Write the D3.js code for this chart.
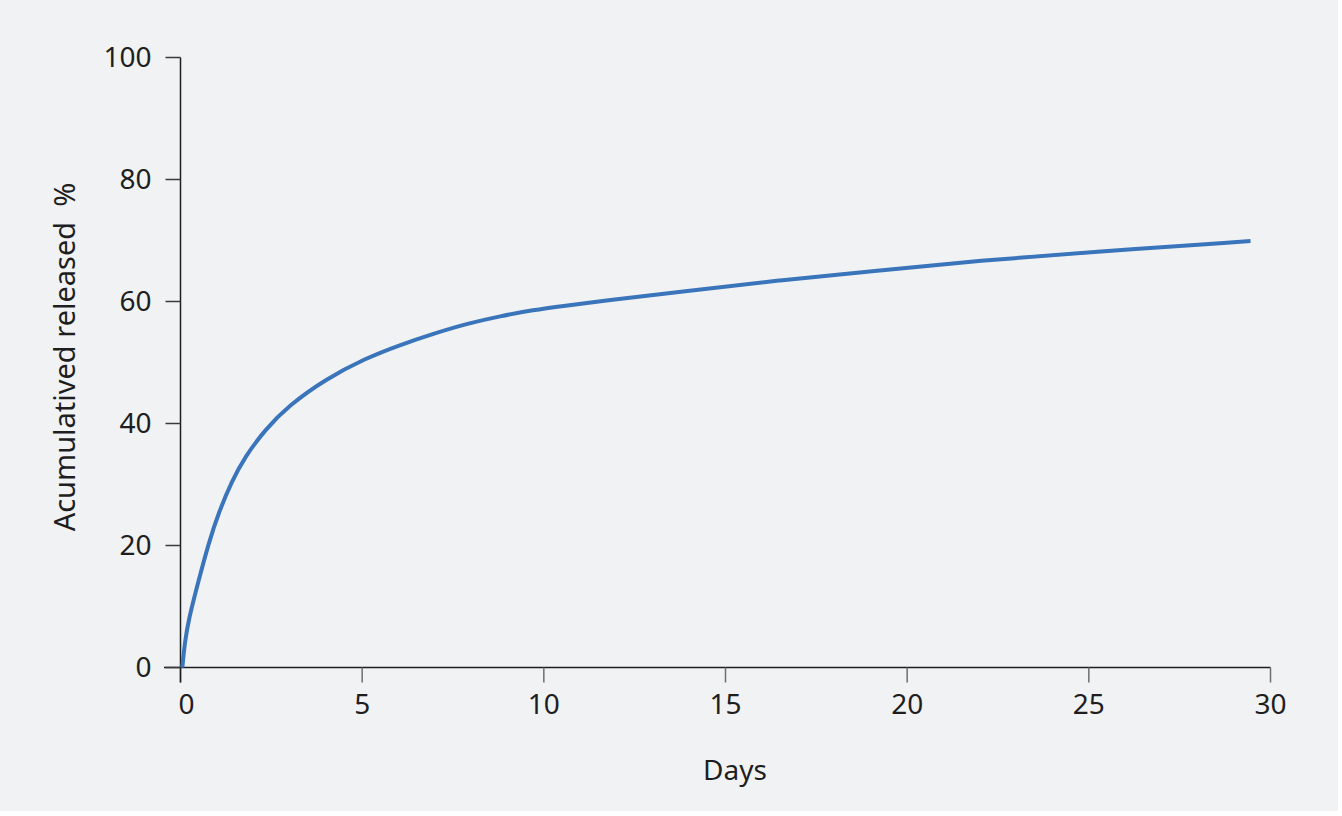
<!DOCTYPE html>
<html>
<head>
<meta charset="utf-8">
<script src="https://cdn.jsdelivr.net/npm/d3@7"></script>
<style>
  html, body { margin: 0; padding: 0; background: #ffffff; }
  svg { display: block; }
  text { font-family: "Noto Sans", "Open Sans", sans-serif; fill: #1e1e1e; }
</style>
</head>
<body>
<svg id="chart" width="1342" height="816"></svg>
<script>
// ---- data ----
const days = [0.05, 0.12, 0.22, 0.5, 0.77, 1.05, 1.41, 1.78, 2.33, 2.97, 4.0, 5.1, 6.0, 7.0, 7.9, 8.8, 9.7, 10.6, 11.5, 13.75, 16.5, 19.25, 22, 25, 29.45];
const released = [0, 4.2, 7.8, 14.3, 20.3, 25.4, 30.5, 34.6, 39.0, 42.9, 47.3, 50.7, 52.8, 54.8, 56.4, 57.6, 58.6, 59.3, 60.0, 61.6, 63.5, 65.1, 66.7, 68.1, 69.9];
const xTicks = [0, 5, 10, 15, 20, 25, 30];
const yTicks = [0, 20, 40, 60, 80, 100];
const xTitle = "Days";
const yTitle = "Acumulatived released\u00a0\u00a0%";

// ---- layout ----
const svg = d3.select("#chart");
svg.append("rect").attr("x", 0).attr("y", 0).attr("width", 1338).attr("height", 811).attr("fill", "#f1f2f4");

const x = d3.scaleLinear().domain([0, 30]).range([180.5, 1270.5]);
const y = d3.scaleLinear().domain([0, 100]).range([667.5, 57.5]);

// x axis
const gx = svg.append("g").attr("transform", `translate(0,${y(0)})`);
gx.append("line").attr("x1", 164).attr("x2", x(30)).attr("y1", 0).attr("y2", 0)
  .attr("stroke", "#1e1e1e").attr("stroke-width", 1.5);
const xt = gx.selectAll("g.tick").data(xTicks).enter().append("g")
  .attr("transform", d => `translate(${x(d)},0)`);
xt.append("line").attr("y1", 0).attr("y2", 15).attr("stroke", "#6e6e6e").attr("stroke-width", 1.5);
xt.append("text").attr("x", d => d === 0 ? 6 : 0).attr("y", 46).attr("text-anchor", "middle").style("font-size", "28px").text(d => d);

// y axis
const gy = svg.append("g").attr("transform", `translate(${x(0)},0)`);
gy.append("line").attr("x1", 0).attr("x2", 0).attr("y1", y(100)).attr("y2", y(0) + 15)
  .attr("stroke", "#1e1e1e").attr("stroke-width", 1.5);
const yt = gy.selectAll("g.tick").data(yTicks).enter().append("g")
  .attr("transform", d => `translate(0,${y(d)})`);
yt.append("line").attr("x1", -15).attr("x2", 0).attr("stroke", "#3a3a3a").attr("stroke-width", 1.5);
yt.append("text").attr("x", -29).attr("dy", "0.35em").attr("text-anchor", "end").style("font-size", "28px").text(d => d);

// titles
svg.append("text").attr("x", 735).attr("y", 780).attr("text-anchor", "middle").style("font-size", "28px").text(xTitle);
svg.append("text").attr("transform", "translate(75,357) rotate(-90)").attr("text-anchor", "middle")
  .style("font-size", "29px").style("white-space", "pre").text(yTitle);

// curve
const pts = days.map((d, i) => [d, released[i]]);
const line = d3.line().x(d => x(d[0])).y(d => y(d[1])).curve(d3.curveBasis);
svg.append("path").datum(pts).attr("d", line).attr("fill", "none")
  .attr("stroke", "#3a74bb").attr("stroke-width", 4).attr("stroke-linecap", "butt");
</script>
</body>
</html>
